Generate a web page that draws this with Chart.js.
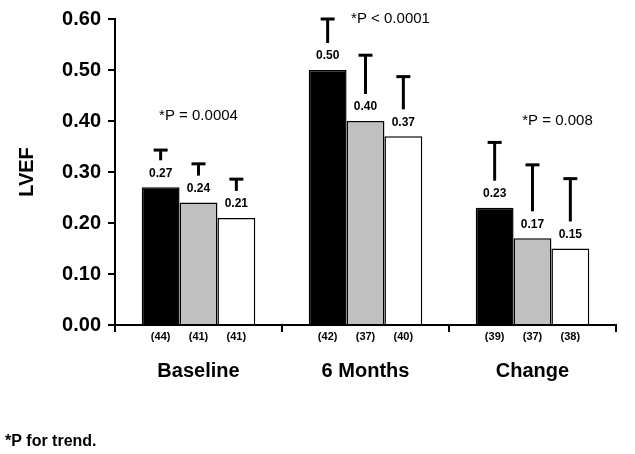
<!DOCTYPE html>
<html><head><meta charset="utf-8">
<script src="https://cdn.jsdelivr.net/npm/chart.js@4.4.1/dist/chart.umd.min.js"></script>
<style>html,body{margin:0;padding:0;background:#fff;}#wrap{width:635px;height:454px;position:relative;}</style>
</head><body><div id="wrap"><canvas id="c" width="635" height="454"></canvas></div>
<script>
const categories = ["Baseline", "6 Months", "Change"];
const seriesNames = ["Group 1", "Group 2", "Group 3"];
const meanA = [0.27, 0.50, 0.23];
const meanB = [0.24, 0.40, 0.17];
const meanC = [0.21, 0.37, 0.15];
const upperA = [0.343, 0.600, 0.358];
const upperB = [0.316, 0.529, 0.314];
const upperC = [0.286, 0.487, 0.287];
const countsA = [44, 42, 39];
const countsB = [41, 37, 37];
const countsC = [41, 40, 38];
const pLabels = ["*P = 0.0004", "*P < 0.0001", "*P = 0.008"];
const pLevels = [0.41, 0.60, 0.40];
const yTickValues = [0.00, 0.10, 0.20, 0.30, 0.40, 0.50, 0.60];
const footnote = "*P for trend.";

const FONT = '"Liberation Sans", Arial, sans-serif';

const decor = {
  id: 'decor',
  afterDatasetsDraw(chart, args, opts) {
    const ctx = chart.ctx, ys = chart.scales.y, xs = chart.scales.x, area = chart.chartArea;
    ctx.save();
    chart.data.datasets.forEach((ds, di) => {
      const meta = chart.getDatasetMeta(di);
      meta.data.forEach((bar, i) => {
        const top = bar.y, cx = bar.x;
        const yu = ys.getPixelForValue(ds.upper[i]);
        const stemEnd = top - 27;
        ctx.strokeStyle = '#000'; ctx.lineWidth = 3; ctx.lineCap = 'butt';
        if (yu < stemEnd) { ctx.beginPath(); ctx.moveTo(cx, stemEnd); ctx.lineTo(cx, yu); ctx.stroke(); }
        ctx.beginPath(); ctx.moveTo(cx - 7, yu); ctx.lineTo(cx + 7, yu); ctx.stroke();
        ctx.fillStyle = '#000'; ctx.font = 'bold 12px ' + FONT;
        ctx.textAlign = 'center'; ctx.textBaseline = 'middle';
        ctx.fillText(ds.data[i].toFixed(2), cx, top - 14);
        ctx.font = 'bold 11px ' + FONT;
        ctx.fillText('(' + ds.counts[i] + ')', cx, area.bottom + 12);
      });
    });
    ctx.font = '15px ' + FONT; ctx.textAlign = 'center'; ctx.textBaseline = 'middle';
    pLabels.forEach((t, i) => {
      ctx.fillText(t, xs.getPixelForValue(i) + opts.pShift[i], ys.getPixelForValue(pLevels[i]));
    });
    ctx.font = 'bold 16px ' + FONT; ctx.textAlign = 'left';
    ctx.fillText(footnote, 5, 442);
    ctx.restore();
  }
};

const colors = ['#000000', '#c0c0c0', '#ffffff'];
const means = [meanA, meanB, meanC], uppers = [upperA, upperB, upperC], counts = [countsA, countsB, countsC];

new Chart(document.getElementById('c'), {
  type: 'bar',
  data: {
    labels: categories,
    datasets: seriesNames.map((n, k) => ({
      label: n, data: means[k], upper: uppers[k], counts: counts[k],
      backgroundColor: colors[k], borderColor: '#000', borderWidth: 1.5,
      categoryPercentage: 0.68, barPercentage: 1.0
    }))
  },
  options: {
    responsive: false, animation: false,
    layout: { padding: { left: 0, right: 19, top: 12, bottom: 0 } },
    plugins: { legend: { display: false }, tooltip: { enabled: false }, decor: { pShift: [0, 25, 25] } },
    scales: {
      x: {
        grid: { display: true, drawOnChartArea: false, offset: true, tickLength: 7, color: '#000', lineWidth: 2 },
        border: { color: '#000', width: 2 },
        ticks: { font: { family: FONT, size: 20, weight: 'bold' }, color: '#000', padding: 27 },
        afterFit(s) { s.height = 129; }
      },
      y: {
        min: 0, max: 0.6,
        afterBuildTicks(s) { s.ticks = yTickValues.map(v => ({ value: v })); },
        ticks: { callback: v => Number(v).toFixed(2), font: { family: FONT, size: 20, weight: 'bold' }, color: '#000', padding: 7 },
        grid: { drawOnChartArea: false, tickLength: 7, color: '#000', lineWidth: 2 },
        border: { color: '#000', width: 2 },
        title: { display: true, text: 'LVEF', font: { family: FONT, size: 20, weight: 'bold' }, color: '#000', padding: { top: 15, bottom: 0 } },
        afterFit(s) { s.width = 115; }
      }
    }
  },
  plugins: [decor]
});
</script></body></html>
